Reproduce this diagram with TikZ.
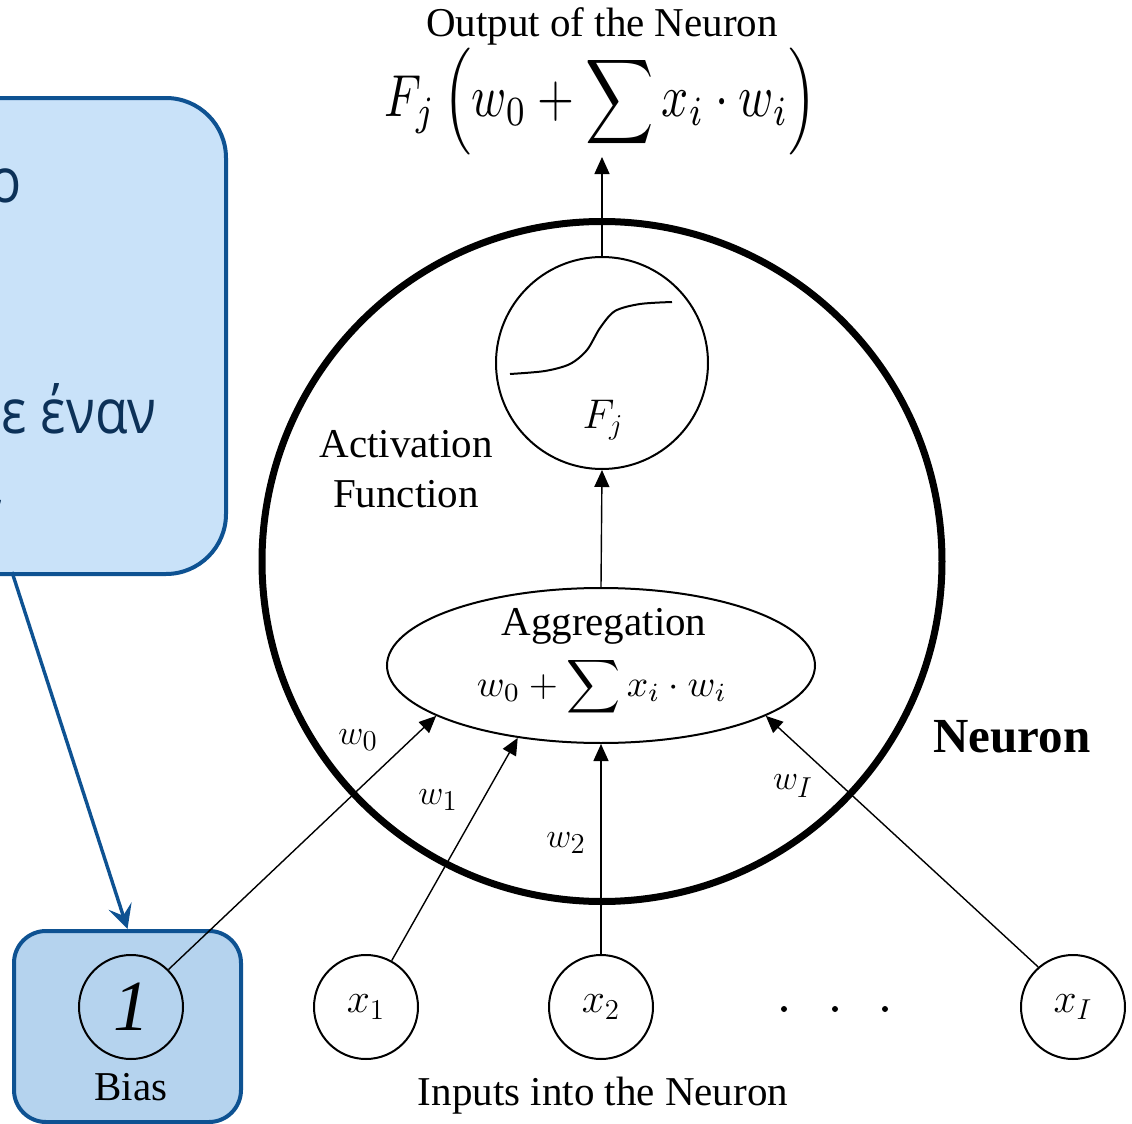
\documentclass[tikz,border=0pt]{standalone}
\usepackage{fontspec}
\setmainfont{Liberation Serif}
\newfontfamily\grk{Open Sans}
\usepackage{graphicx}
\usetikzlibrary{shapes.geometric,arrows.meta}
\definecolor{cfill}{HTML}{C9E2F9}
\definecolor{cline}{HTML}{0E5292}
\definecolor{bfill}{HTML}{B5D3EE}
\definecolor{ctext}{HTML}{0C3158}
\begin{document}
\begin{tikzpicture}[x=0.5pt,y=-0.5pt,
  lbl/.style={font=\fontsize{20.5}{24}\selectfont, inner sep=0},
  wlbl/.style={font=\fontsize{19}{22}\selectfont, inner sep=0},
  gtext/.style={font=\grk\fontsize{31}{36}\selectfont, text=ctext, inner sep=0},
  neuronc/.style={circle, draw, line width=3.5pt, minimum size=340pt, inner sep=0},
  actc/.style={circle, draw, line width=1pt, minimum size=106pt, inner sep=0},
  aggc/.style={ellipse, draw, line width=1pt, minimum width=214pt, minimum height=77.5pt, inner sep=0},
  inputc/.style={circle, draw, line width=1pt, minimum size=52pt, inner sep=0, font=\fontsize{20}{24}\selectfont},
  dotc/.style={circle, fill, minimum size=3pt, inner sep=0},
  arr/.style={-{Triangle[length=8.5pt,width=7.5pt]}, line width=0.7pt},
  callout/.style={draw=cline, fill=cfill, line width=2pt, rounded corners=30pt, inner sep=0},
  biasbox/.style={draw=cline, fill=bfill, line width=2pt, rounded corners=16pt, inner sep=0, minimum width=113.5pt, minimum height=95.5pt},
  carrow/.style={draw=cline, line width=1.7pt, -{Stealth[length=12pt,width=12pt,inset=5pt]}}
]
\useasboundingbox (0,0) rectangle (1132,1124);
\fill[white] (0,0) rectangle (1132,1124);

% callout box (cut off at the left edge)
\node[callout, anchor=north east, minimum width=300pt, minimum height=238pt] (callout) at (228,96) {};
\node[gtext, anchor=base east] (t1) at (22,202) {\scalebox{0.86}[1]{ο}};
\node[gtext, anchor=base east] (t2) at (157,433) {\scalebox{0.86}[1]{ε έναν}};
\node[gtext, anchor=base east] (t3) at (6,507) {,};
\coordinate (cstart) at (12,572);

% bias box
\node[biasbox] (bbox) at (127.5,1026.5) {};
\draw[carrow] (cstart) -- (bbox.north);

% neuron
\node[neuronc] (neuron) at (602,561.5) {};
\node[aggc] (agg) at (601,665.5) {};
\node[actc] (act) at (602,363) {};
\draw[line width=1pt] plot[smooth] coordinates {(510,374) (545,371) (570,364) (587,350) (600,328) (615,311) (640,304) (672,302)};
\node[font=\fontsize{22}{26}\selectfont, inner sep=0] (fj) at (603,420) {$F_j$};

% output
\node[lbl, anchor=base] (outlbl) at (602,37) {Output of the Neuron};
\node[inner sep=0] (formula) at (601,102) {\scalebox{1}[1.25]{\resizebox{216pt}{!}{$F_j\left(w_0+\displaystyle\sum x_i\cdot w_i\right)$}}};
\coordinate (otip) at (602,157);
\draw[arr] (act.north) -- (otip);
\draw[arr] (agg.north) -- (act.south);

% labels in neuron
\node[lbl, anchor=base] (actlbl1) at (406,457) {Activation};
\node[lbl, anchor=base] (actlbl2) at (406,507) {Function};
\node[lbl, anchor=base] (agglbl) at (604,635) {Aggregation};
\node[inner sep=0] (aggf) at (602,687) {\resizebox{125pt}{!}{$w_0+\displaystyle\sum x_i\cdot w_i$}};
\node[font=\bfseries\fontsize{24.5}{28}\selectfont, inner sep=0, anchor=base west] (neuronlbl) at (933,752) {Neuron};

% inputs
\node[inputc, font=\itshape\fontsize{36}{40}\selectfont] (b1) at (131,1007) {1};
\node[inputc] (x1) at (366,1007) {$x_1$};
\node[inputc] (x2) at (601,1007) {$x_2$};
\node[inputc] (xI) at (1073,1007) {$x_I$};
\node[dotc] (d1) at (784,1009) {};
\node[dotc] (d2) at (835,1009) {};
\node[dotc] (d3) at (885,1009) {};
\node[lbl, anchor=base] (bias) at (131,1100) {Bias};
\node[lbl, anchor=base] (inputs) at (603,1105) {Inputs into the Neuron};

% weighted connections
\draw[arr] (b1.45) -- (agg.197);
\draw[arr] (x1.61) -- (agg.221);
\draw[arr] (x2.north) -- (agg.south);
\draw[arr] (xI.131) -- (agg.343);
\node[wlbl] (w0) at (358,740) {$w_0$};
\node[wlbl] (w1) at (438,800) {$w_1$};
\node[wlbl] (w2) at (566,843) {$w_2$};
\node[wlbl] (wI) at (793,786) {$w_I$};
\end{tikzpicture}
\end{document}
